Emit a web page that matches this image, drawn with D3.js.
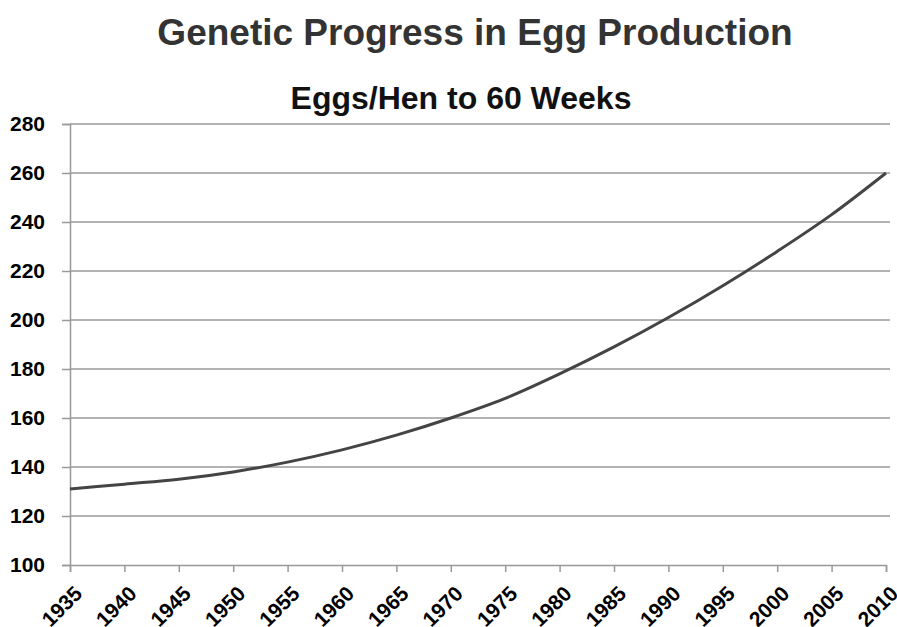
<!DOCTYPE html>
<html>
<head>
<meta charset="utf-8">
<script src="https://cdn.jsdelivr.net/npm/d3@7"></script>
<style>
  html, body { margin: 0; padding: 0; background: #fff; }
  svg { display: block; font-family: "Liberation Sans", Arial, sans-serif; }
</style>
</head>
<body>
<svg id="chart" width="897" height="627"></svg>
<script>
// values
var years = [1935, 1940, 1945, 1950, 1955, 1960, 1965, 1970, 1975, 1980, 1985, 1990, 1995, 2000, 2005, 2010];
var eggs = [131, 133, 135, 138, 142, 147, 153, 160, 168, 178, 189, 201, 214, 228, 243, 260];
var yTicks = [100, 120, 140, 160, 180, 200, 220, 240, 260, 280];

var svg = d3.select('#chart');
var plotLeft = 70, plotRight = 886, plotTop = 124, plotBottom = 565;

var x = d3.scaleLinear().domain([1935, 2010]).range([plotLeft, plotRight]);
var y = d3.scaleLinear().domain([100, 280]).range([plotBottom, plotTop]);

svg.append('text')
  .attr('x', 475).attr('y', 45)
  .attr('text-anchor', 'middle')
  .attr('font-size', '37px').attr('font-weight', 'bold')
  .attr('fill', '#333')
  .text('Genetic Progress in Egg Production');

svg.append('text')
  .attr('x', 461).attr('y', 109)
  .attr('text-anchor', 'middle')
  .attr('font-size', '32px').attr('font-weight', 'bold')
  .attr('fill', '#111')
  .text('Eggs/Hen to 60 Weeks');

// gridlines
svg.selectAll('.grid')
  .data(yTicks.slice(1))
  .enter().append('line')
  .attr('class', 'grid')
  .attr('x1', plotLeft).attr('x2', plotRight + 4)
  .attr('y1', function(d) { return y(d); })
  .attr('y2', function(d) { return y(d); })
  .attr('stroke', '#999').attr('stroke-width', 1.5);

// y axis
var yAxis = svg.append('g')
  .attr('transform', 'translate(' + plotLeft + ',0)')
  .call(d3.axisLeft(y).tickValues(yTicks).tickSize(8).tickPadding(17));
yAxis.select('.domain').attr('stroke', '#999').attr('stroke-width', 1.5);
yAxis.selectAll('.tick line').attr('stroke', '#999').attr('stroke-width', 1.5);
yAxis.selectAll('.tick text')
  .attr('font-size', '21px').attr('font-weight', 'bold')
  .attr('fill', '#000')
  .attr('font-family', '"Liberation Sans", Arial, sans-serif');

// x axis
var xAxis = svg.append('g')
  .attr('transform', 'translate(0,' + plotBottom + ')')
  .call(d3.axisBottom(x).tickValues(years).tickSize(7).tickFormat(d3.format('d')));
xAxis.select('.domain').attr('stroke', '#999').attr('stroke-width', 1.5);
xAxis.selectAll('.tick line').attr('stroke', '#999').attr('stroke-width', 1.5);
xAxis.selectAll('.tick text')
  .attr('font-size', '21px').attr('font-weight', 'bold')
  .attr('fill', '#000')
  .attr('font-family', '"Liberation Sans", Arial, sans-serif')
  .attr('text-anchor', 'end')
  .attr('dy', null).attr('y', null)
  .attr('transform', 'translate(13,30) rotate(-45)');

// series line
var line = d3.line()
  .x(function(d, i) { return x(years[i]); })
  .y(function(d) { return y(d); })
  .curve(d3.curveMonotoneX);

svg.append('path')
  .datum(eggs)
  .attr('d', line)
  .attr('fill', 'none')
  .attr('stroke', '#444')
  .attr('stroke-width', 3);
</script>
</body>
</html>
